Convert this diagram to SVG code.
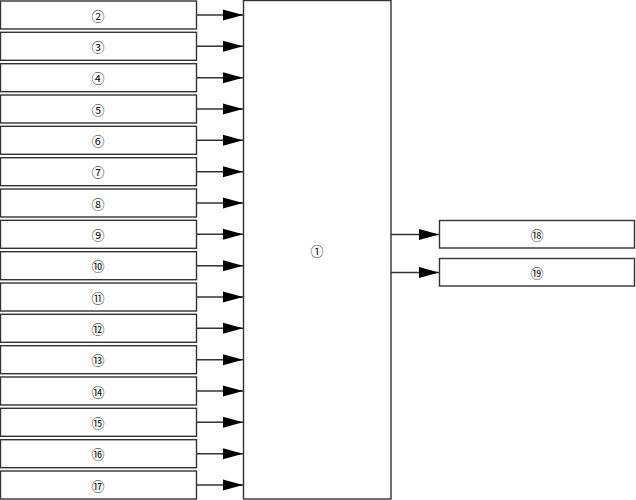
<svg xmlns="http://www.w3.org/2000/svg" width="636" height="500" viewBox="0 0 636 500">
<style>
.b{fill:#fff;stroke:#333;stroke-width:1.4}
.t{font-family:"Noto Sans CJK JP","DejaVu Sans",sans-serif;font-size:13px;fill:#111;text-anchor:middle;dominant-baseline:central}
.c{stroke:#333;stroke-width:1.4;fill:none;marker-end:url(#ah)}
</style>
<defs>
<marker id="ah" markerUnits="userSpaceOnUse" markerWidth="21" markerHeight="12" refX="20" refY="6" orient="auto">
<path d="M0,0.5 L20,6 L0,11.5 Z" fill="#000"/>
</marker>
</defs>
<rect width="636" height="500" fill="#fff"/>
<g id="n1"><rect class="b" x="243.5" y="0.5" width="147.5" height="498.5"/><text class="t" x="317" y="250">①</text></g>
<g id="n2"><rect class="b" x="0.5" y="1" width="196" height="28"/><text class="t" x="98" y="15">②</text></g>
<g id="n3"><rect class="b" x="0.5" y="32.3" width="196" height="28"/><text class="t" x="98" y="46.3">③</text></g>
<g id="n4"><rect class="b" x="0.5" y="63.7" width="196" height="28"/><text class="t" x="98" y="77.7">④</text></g>
<g id="n5"><rect class="b" x="0.5" y="95" width="196" height="28"/><text class="t" x="98" y="109">⑤</text></g>
<g id="n6"><rect class="b" x="0.5" y="126.3" width="196" height="28"/><text class="t" x="98" y="140.3">⑥</text></g>
<g id="n7"><rect class="b" x="0.5" y="157.7" width="196" height="28"/><text class="t" x="98" y="171.7">⑦</text></g>
<g id="n8"><rect class="b" x="0.5" y="189" width="196" height="28"/><text class="t" x="98" y="203">⑧</text></g>
<g id="n9"><rect class="b" x="0.5" y="220.3" width="196" height="28"/><text class="t" x="98" y="234.3">⑨</text></g>
<g id="n10"><rect class="b" x="0.5" y="251.7" width="196" height="28"/><text class="t" x="98" y="265.7">⑩</text></g>
<g id="n11"><rect class="b" x="0.5" y="283" width="196" height="28"/><text class="t" x="98" y="297">⑪</text></g>
<g id="n12"><rect class="b" x="0.5" y="314.3" width="196" height="28"/><text class="t" x="98" y="328.3">⑫</text></g>
<g id="n13"><rect class="b" x="0.5" y="345.7" width="196" height="28"/><text class="t" x="98" y="359.7">⑬</text></g>
<g id="n14"><rect class="b" x="0.5" y="377" width="196" height="28"/><text class="t" x="98" y="391">⑭</text></g>
<g id="n15"><rect class="b" x="0.5" y="408.3" width="196" height="28"/><text class="t" x="98" y="422.3">⑮</text></g>
<g id="n16"><rect class="b" x="0.5" y="439.7" width="196" height="28"/><text class="t" x="98" y="453.7">⑯</text></g>
<g id="n17"><rect class="b" x="0.5" y="471" width="196" height="28"/><text class="t" x="98" y="485">⑰</text></g>
<g id="n18"><rect class="b" x="439.5" y="220.5" width="195" height="27.5"/><text class="t" x="537" y="234.5">⑱</text></g>
<g id="n19"><rect class="b" x="439.5" y="258.5" width="195" height="27.5"/><text class="t" x="537" y="272.5">⑲</text></g>
<g id="connectors">
<path class="c" d="M196.5,15 H243"/>
<path class="c" d="M196.5,46.3 H243"/>
<path class="c" d="M196.5,77.7 H243"/>
<path class="c" d="M196.5,109 H243"/>
<path class="c" d="M196.5,140.3 H243"/>
<path class="c" d="M196.5,171.7 H243"/>
<path class="c" d="M196.5,203 H243"/>
<path class="c" d="M196.5,234.3 H243"/>
<path class="c" d="M196.5,265.7 H243"/>
<path class="c" d="M196.5,297 H243"/>
<path class="c" d="M196.5,328.3 H243"/>
<path class="c" d="M196.5,359.7 H243"/>
<path class="c" d="M196.5,391 H243"/>
<path class="c" d="M196.5,422.3 H243"/>
<path class="c" d="M196.5,453.7 H243"/>
<path class="c" d="M196.5,485 H243"/>
<path class="c" d="M391,234.5 H439"/>
<path class="c" d="M391,272.5 H439"/>
</g>
</svg>
